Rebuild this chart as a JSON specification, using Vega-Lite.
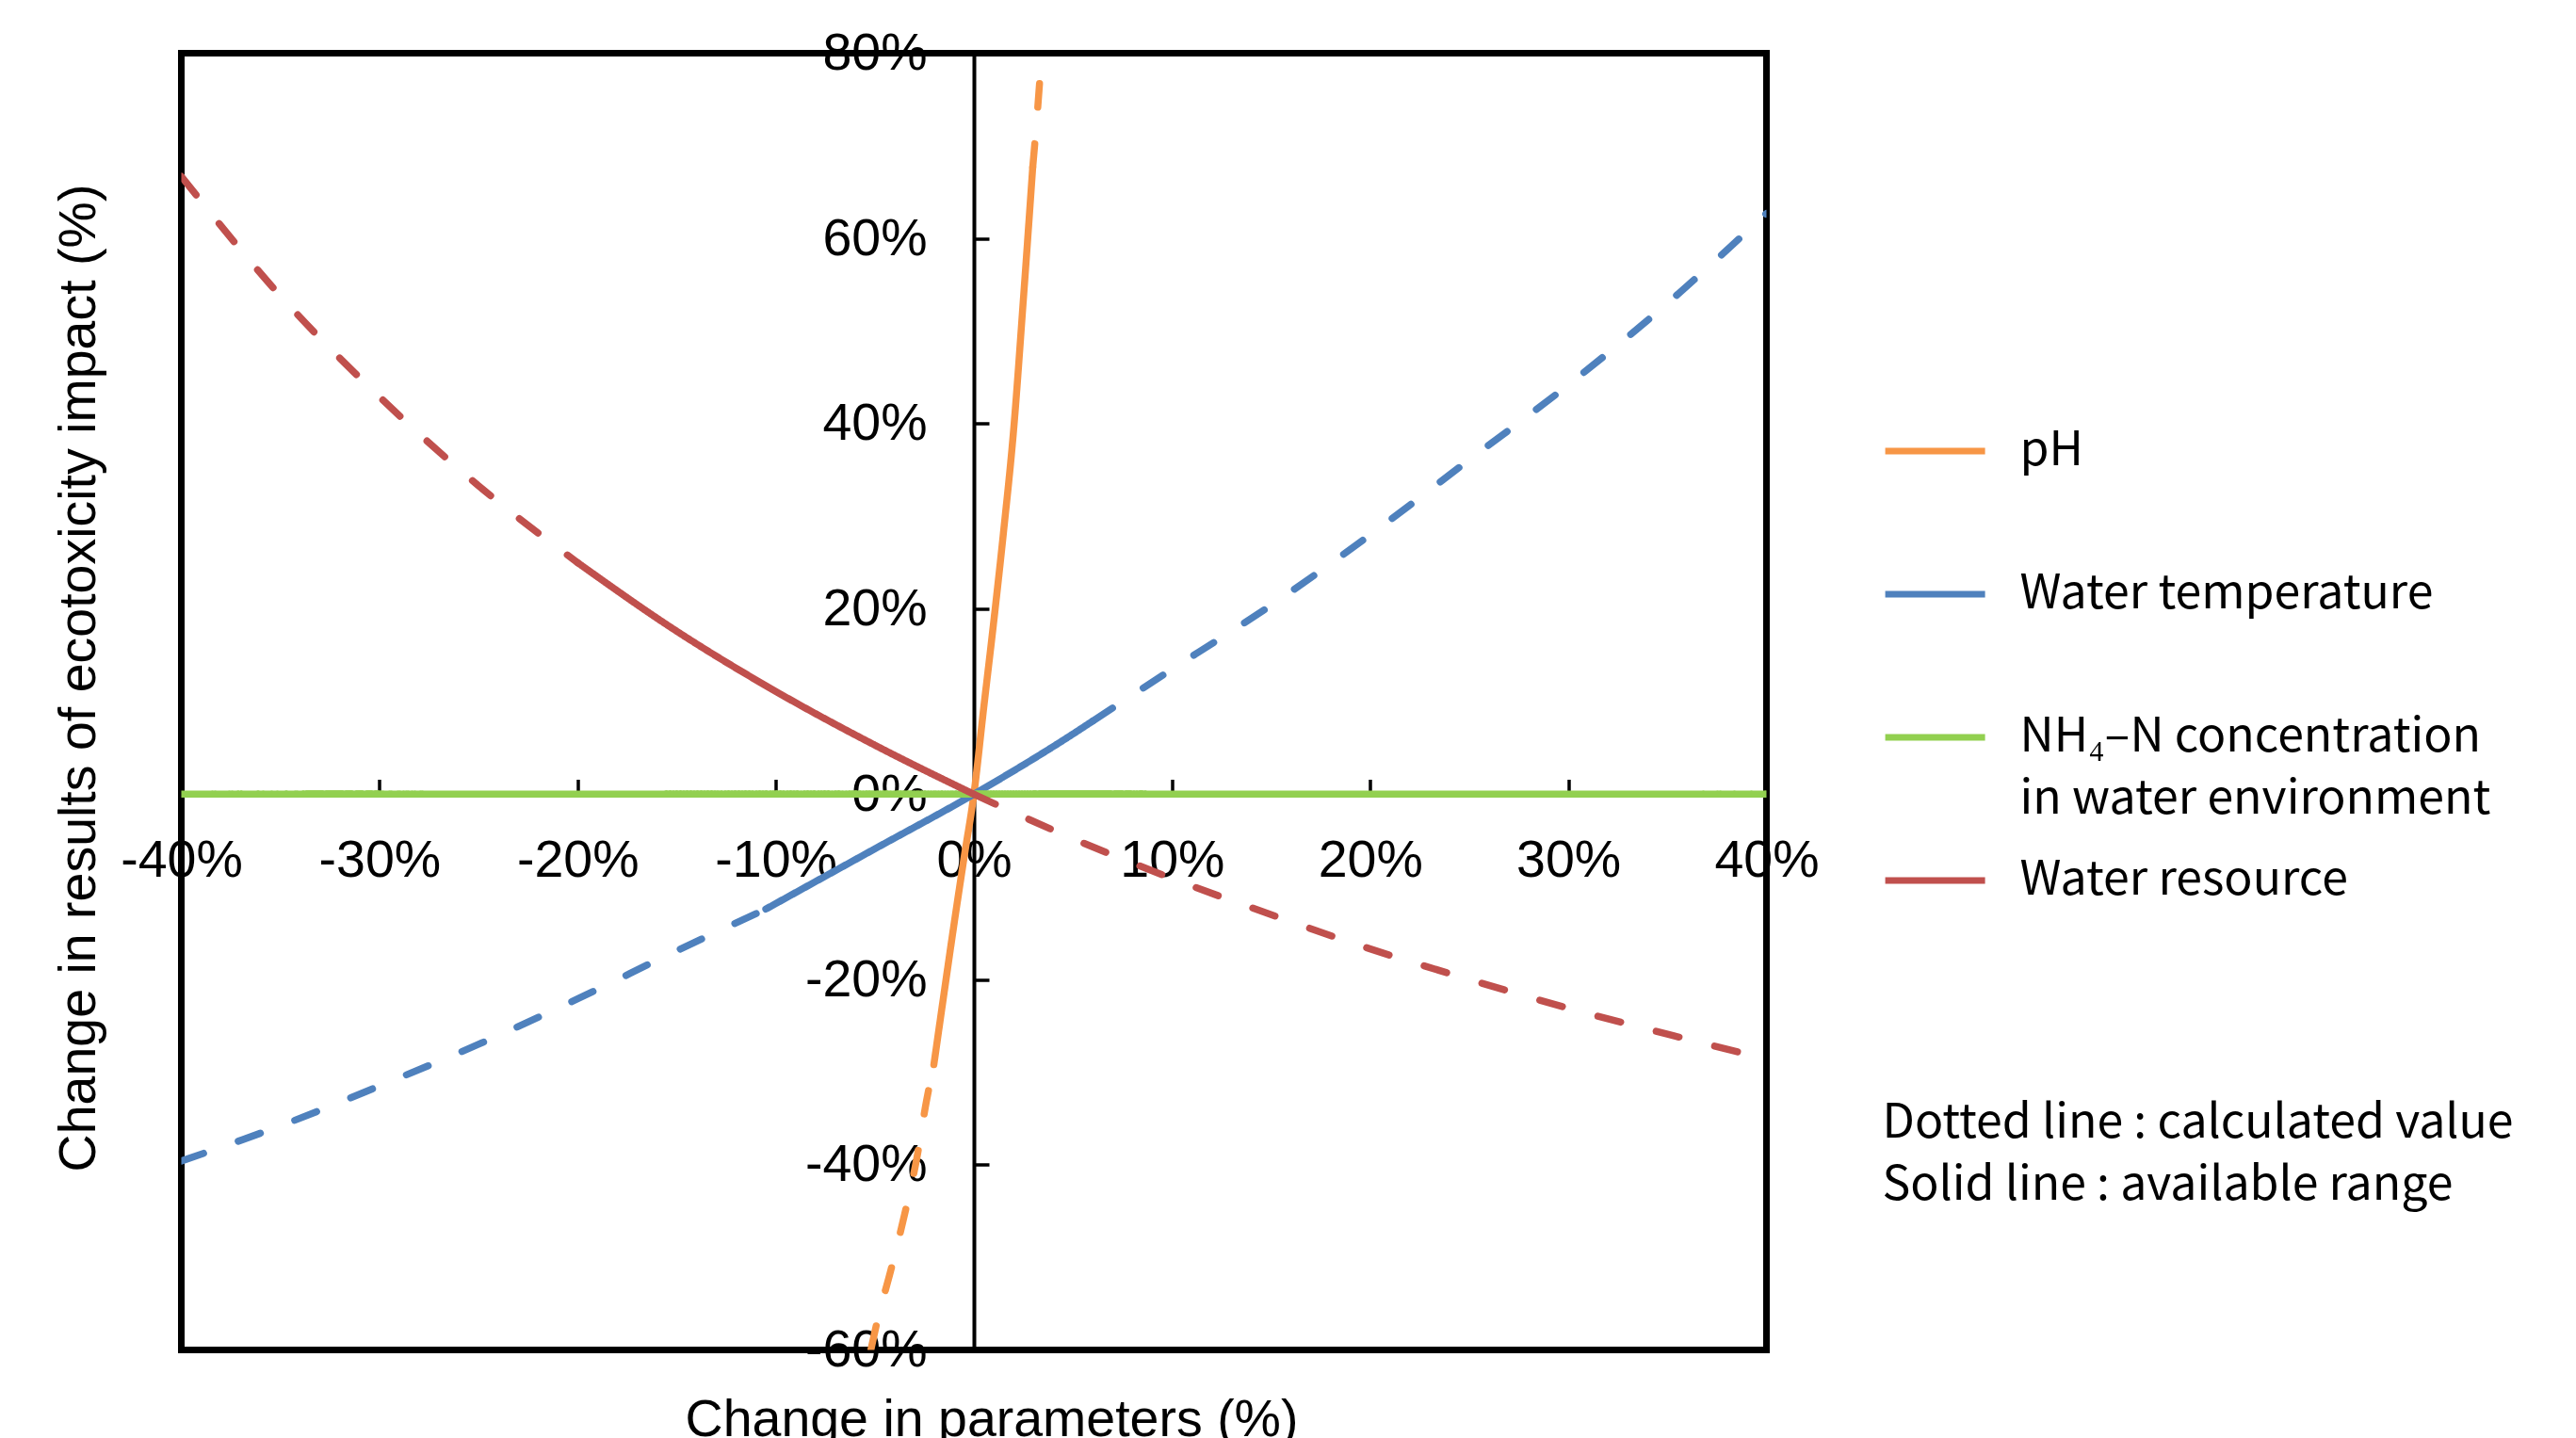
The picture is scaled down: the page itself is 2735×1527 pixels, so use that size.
{
  "$schema": "https://vega.github.io/schema/vega-lite/v6.json",
  "width": 1683,
  "height": 1377,
  "autosize": "none",
  "padding": {"left": 192.5, "top": 56.5, "right": 859.5, "bottom": 93.5},
  "background": "white",
  "config": {
    "view": {"stroke": "black", "strokeWidth": 7},
    "axis": {
      "grid": false,
      "domainColor": "black",
      "domainWidth": 4,
      "tickColor": "black",
      "tickWidth": 3.5,
      "tickSize": -16,
      "labelFont": "Liberation Sans",
      "labelFontSize": 55.5,
      "labelColor": "black",
      "labelFlush": false,
      "labelOverlap": false,
      "labelBound": false,
      "titleFont": "Liberation Sans",
      "titleFontSize": 55.5,
      "titleFontWeight": "normal",
      "titleColor": "black",
      "zindex": 0
    }
  },
  "data": {
    "values": [
      {"series": "pH", "segment": "L", "line": "calculated", "x": -5.19, "y": -59.9},
      {"series": "pH", "segment": "L", "line": "calculated", "x": -4.9, "y": -57.1},
      {"series": "pH", "segment": "L", "line": "calculated", "x": -4.18, "y": -51.3},
      {"series": "pH", "segment": "L", "line": "calculated", "x": -3.49, "y": -45.3},
      {"series": "pH", "segment": "L", "line": "calculated", "x": -2.88, "y": -39.3},
      {"series": "pH", "segment": "L", "line": "calculated", "x": -2.4, "y": -33.2},
      {"series": "pH", "segment": "L", "line": "calculated", "x": -2.02, "y": -29.2},
      {"series": "pH", "segment": "M", "line": "available", "x": -2.02, "y": -29.2},
      {"series": "pH", "segment": "M", "line": "available", "x": -1.5, "y": -21.4},
      {"series": "pH", "segment": "M", "line": "available", "x": -1.0, "y": -14.0},
      {"series": "pH", "segment": "M", "line": "available", "x": -0.5, "y": -6.9},
      {"series": "pH", "segment": "M", "line": "available", "x": 0, "y": 0},
      {"series": "pH", "segment": "M", "line": "available", "x": 0.5, "y": 9.4},
      {"series": "pH", "segment": "M", "line": "available", "x": 1.0, "y": 18.6},
      {"series": "pH", "segment": "M", "line": "available", "x": 1.5, "y": 28.4},
      {"series": "pH", "segment": "M", "line": "available", "x": 2.0, "y": 39.2},
      {"series": "pH", "segment": "M", "line": "available", "x": 2.5, "y": 53.5},
      {"series": "pH", "segment": "M", "line": "available", "x": 2.97, "y": 67.7},
      {"series": "pH", "segment": "R", "line": "calculated", "x": 2.97, "y": 67.7},
      {"series": "pH", "segment": "R", "line": "calculated", "x": 3.2, "y": 73.5},
      {"series": "pH", "segment": "R", "line": "calculated", "x": 3.37, "y": 78.4},

      {"series": "Water temperature", "segment": "L", "line": "calculated", "x": -40, "y": -39.6},
      {"series": "Water temperature", "segment": "L", "line": "calculated", "x": -35, "y": -35.8},
      {"series": "Water temperature", "segment": "L", "line": "calculated", "x": -30, "y": -31.5},
      {"series": "Water temperature", "segment": "L", "line": "calculated", "x": -25, "y": -27.0},
      {"series": "Water temperature", "segment": "L", "line": "calculated", "x": -20, "y": -22.1},
      {"series": "Water temperature", "segment": "L", "line": "calculated", "x": -15, "y": -16.9},
      {"series": "Water temperature", "segment": "L", "line": "calculated", "x": -10.5, "y": -12.4},
      {"series": "Water temperature", "segment": "M", "line": "available", "x": -10.5, "y": -12.4},
      {"series": "Water temperature", "segment": "M", "line": "available", "x": -5, "y": -5.9},
      {"series": "Water temperature", "segment": "M", "line": "available", "x": 0, "y": 0},
      {"series": "Water temperature", "segment": "M", "line": "available", "x": 5, "y": 6.5},
      {"series": "Water temperature", "segment": "M", "line": "available", "x": 6, "y": 7.9},
      {"series": "Water temperature", "segment": "R", "line": "calculated", "x": 6, "y": 7.9},
      {"series": "Water temperature", "segment": "R", "line": "calculated", "x": 10, "y": 13.5},
      {"series": "Water temperature", "segment": "R", "line": "calculated", "x": 15, "y": 20.4},
      {"series": "Water temperature", "segment": "R", "line": "calculated", "x": 20, "y": 28.0},
      {"series": "Water temperature", "segment": "R", "line": "calculated", "x": 25, "y": 36.1},
      {"series": "Water temperature", "segment": "R", "line": "calculated", "x": 30, "y": 44.2},
      {"series": "Water temperature", "segment": "R", "line": "calculated", "x": 35, "y": 53.0},
      {"series": "Water temperature", "segment": "R", "line": "calculated", "x": 40, "y": 62.7},

      {"series": "NH4-N", "segment": "M", "line": "available", "x": -40, "y": 0},
      {"series": "NH4-N", "segment": "M", "line": "available", "x": 0, "y": 0},
      {"series": "NH4-N", "segment": "M", "line": "available", "x": 40, "y": 0},

      {"series": "Water resource", "segment": "L", "line": "calculated", "x": -40, "y": 66.7},
      {"series": "Water resource", "segment": "L", "line": "calculated", "x": -35, "y": 53.8},
      {"series": "Water resource", "segment": "L", "line": "calculated", "x": -30, "y": 42.9},
      {"series": "Water resource", "segment": "L", "line": "calculated", "x": -25, "y": 33.3},
      {"series": "Water resource", "segment": "L", "line": "calculated", "x": -20, "y": 25.0},
      {"series": "Water resource", "segment": "M", "line": "available", "x": -20, "y": 25.0},
      {"series": "Water resource", "segment": "M", "line": "available", "x": -15, "y": 17.6},
      {"series": "Water resource", "segment": "M", "line": "available", "x": -10, "y": 11.1},
      {"series": "Water resource", "segment": "M", "line": "available", "x": -5, "y": 5.3},
      {"series": "Water resource", "segment": "M", "line": "available", "x": 0, "y": 0},
      {"series": "Water resource", "segment": "R", "line": "calculated", "x": 0, "y": 0},
      {"series": "Water resource", "segment": "R", "line": "calculated", "x": 5, "y": -4.8},
      {"series": "Water resource", "segment": "R", "line": "calculated", "x": 10, "y": -9.1},
      {"series": "Water resource", "segment": "R", "line": "calculated", "x": 15, "y": -13.0},
      {"series": "Water resource", "segment": "R", "line": "calculated", "x": 20, "y": -16.7},
      {"series": "Water resource", "segment": "R", "line": "calculated", "x": 25, "y": -20.0},
      {"series": "Water resource", "segment": "R", "line": "calculated", "x": 30, "y": -23.1},
      {"series": "Water resource", "segment": "R", "line": "calculated", "x": 35, "y": -25.9},
      {"series": "Water resource", "segment": "R", "line": "calculated", "x": 40, "y": -28.6}
    ]
  },
  "mark": {"type": "line", "strokeWidth": 7.5, "strokeCap": "round", "interpolate": "monotone", "clip": true},
  "encoding": {
    "x": {
      "field": "x",
      "type": "quantitative",
      "scale": {"domain": [-40, 40], "nice": false, "zero": false},
      "axis": {
        "title": "Change in parameters (%)",
        "orient": "bottom",
        "offset": -590,
        "values": [-40, -30, -20, -10, 0, 10, 20, 30, 40],
        "labelExpr": "datum.value + '%'",
        "labelPadding": 58.5,
        "domainWidth": 4,
        "titleX": 860,
        "titleY": 637,
        "titleAlign": "center",
        "titleBaseline": "top",
        "titleAnchor": "start"
      }
    },
    "y": {
      "field": "y",
      "type": "quantitative",
      "scale": {"domain": [-60, 80], "nice": false, "zero": false},
      "axis": {
        "title": "Change in results of ecotoxicity impact (%)",
        "orient": "left",
        "offset": -841.5,
        "values": [-60, -40, -20, 0, 20, 40, 60, 80],
        "labelExpr": "datum.value + '%'",
        "labelPadding": 66,
        "domainWidth": 4,
        "titleX": -951,
        "titleY": 663,
        "titleAngle": 270,
        "titleAlign": "center",
        "titleBaseline": "middle",
        "titleAnchor": "start"
      }
    },
    "color": {
      "field": "series",
      "type": "nominal",
      "scale": {
        "domain": ["pH", "Water temperature", "NH4-N", "Water resource"],
        "range": ["#F79646", "#4F81BD", "#92D050", "#C0504D"]
      },
      "legend": {
        "orient": "none",
        "legendX": 1805.6,
        "legendY": 366,
        "title": null,
        "padding": 0,
        "gridAlign": "all",
        "symbolType": "stroke",
        "symbolSize": 11236,
        "symbolStrokeWidth": 7,
        "labelFont": "Noto Sans CJK JP",
        "labelFontSize": 50,
        "labelColor": "black",
        "labelOffset": 33.5,
        "labelLimit": 3000,
        "labelBaseline": "middle",
        "rowPadding": 4,
        "labelExpr": "datum.label == 'NH4-N' ? ['NH₄–N concentration', 'in water environment'] : datum.label",
        "encode": {"labels": {"update": {"lineHeight": {"value": 66}}}}
      }
    },
    "strokeDash": {
      "field": "line",
      "type": "nominal",
      "scale": {"domain": ["calculated", "available"], "range": [[25, 39], [1, 0]]},
      "legend": {
        "orient": "none",
        "legendX": 1756,
        "legendY": 1111,
        "title": null,
        "padding": 0,
        "symbolOpacity": 0,
        "symbolSize": 0,
        "symbolStrokeWidth": 0,
        "labelFont": "Noto Sans CJK JP",
        "labelFontSize": 50,
        "labelColor": "black",
        "labelOffset": 0,
        "labelLimit": 3000,
        "labelBaseline": "middle",
        "rowPadding": 16,
        "labelExpr": "datum.label == 'calculated' ? 'Dotted line : calculated value' : 'Solid line : available range'"
      }
    },
    "detail": {"field": "segment"}
  }
}
